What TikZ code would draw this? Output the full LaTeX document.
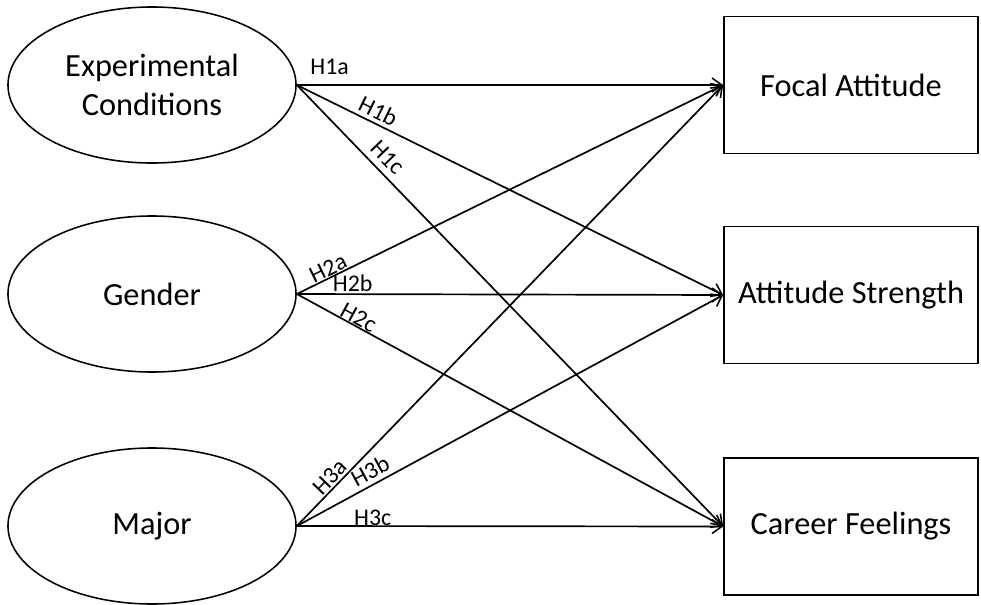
\documentclass[tikz,border=0pt]{standalone}
\usepackage{fontspec}
\setmainfont{Carlito}
\usepackage{tikz}
\usetikzlibrary{shapes.geometric,arrows.meta}

\begin{document}
\begin{tikzpicture}[x=0.025cm,y=-0.025cm,
    factor/.style={draw,line width=1.1pt,ellipse,inner sep=0pt,minimum width=7.2cm,minimum height=3.9cm,
                   align=center,font=\fontsize{23}{27.5}\selectfont},
    outcome/.style={draw,line width=1.2pt,rectangle,inner sep=0pt,minimum width=6.35cm,minimum height=3.425cm,
                    font=\fontsize{23}{27.5}\selectfont},
    path/.style={line width=1.2pt,-{Straight Barb[length=7pt,width=10pt,line width=1.1pt]}},
    hyp/.style={font=\fontsize{17}{20}\selectfont,inner sep=0pt,sloped}]
      \useasboundingbox (0,0) rectangle (981,605);
      % predictors
      \node[factor] (cond)  at (152,85)  {Experimental\\Conditions};
      \node[factor] (gend)  at (152,294) {Gender};
      \node[factor] (major) at (152,526) {Major};
      % outcomes
      \node[outcome] (focal)  at (851,85)    {Focal Attitude};
      \node[outcome] (streng) at (851,295)   {Attitude Strength};
      \node[outcome] (career) at (851,526.5) {Career Feelings};
      % hypotheses
      \draw[path] (cond.east) -- (focal.west)  node[hyp,pos=0.077,above=7pt]  {H1a};
      \draw[path] (cond.east) -- (streng.west) node[hyp,pos=0.178,above=2.5pt]{H1b};
      \draw[path] (cond.east) -- (career.west) node[hyp,pos=0.188,above=4.5pt]{H1c};
      \draw[path] (gend.east) -- (focal.west)  node[hyp,pos=0.083,above=0.5pt]{H2a};
      \draw[path] (gend.east) -- (streng.west) node[hyp,pos=0.131,above=1pt]  {H2b};
      \draw[path] (gend.east) -- (career.west) node[hyp,pos=0.135,above=0pt]  {H2c};
      \draw[path] (major.east) -- (focal.west)  node[hyp,pos=0.095,above=1pt]  {H3a};
      \draw[path] (major.east) -- (streng.west) node[hyp,pos=0.187,above=3pt]  {H3b};
      \draw[path] (major.east) -- (career.west) node[hyp,pos=0.178,above=0pt]  {H3c};
    \end{tikzpicture}
\end{document}
